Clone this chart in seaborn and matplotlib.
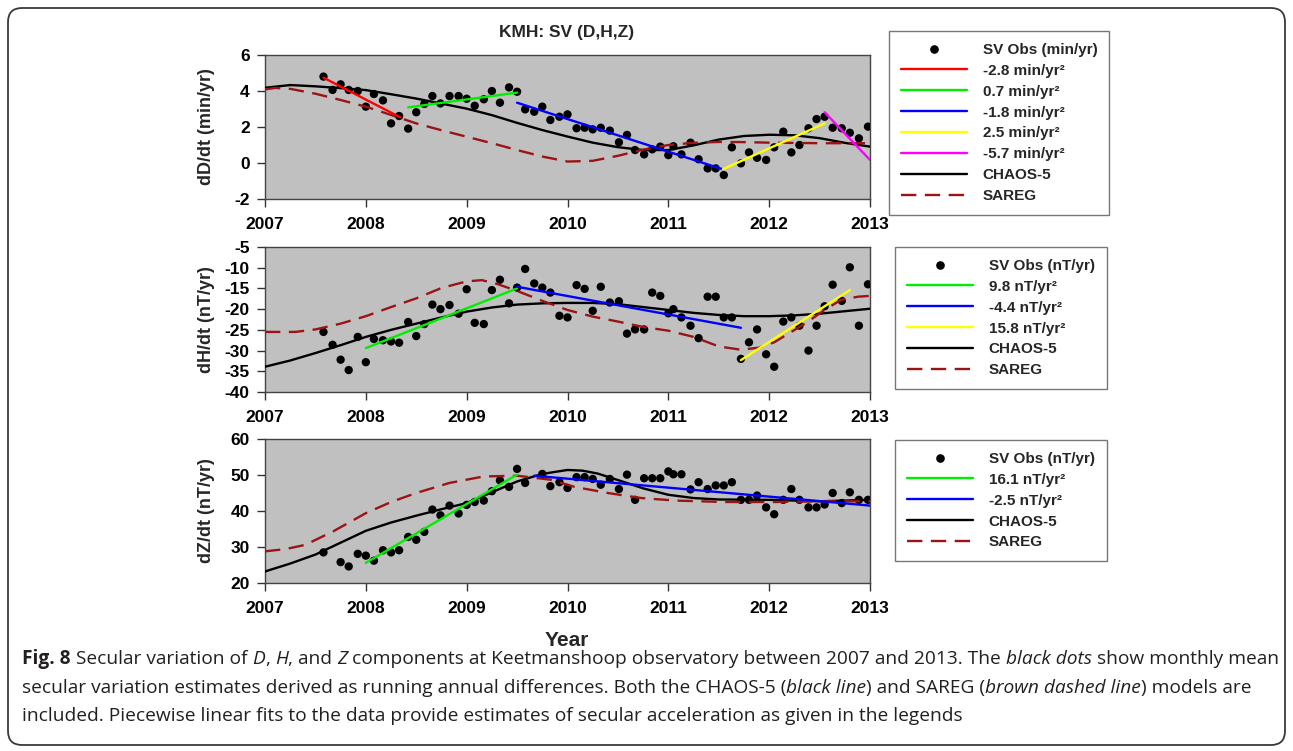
import numpy as np
import matplotlib
matplotlib.use("Agg")
import matplotlib.pyplot as plt
from matplotlib import font_manager as fm
import seaborn as sns
from matplotlib.lines import Line2D
from matplotlib.patches import FancyBboxPatch
from matplotlib.transforms import IdentityTransform

# ---------------- data ----------------
obs_t = [2007.58, 2007.67, 2007.75, 2007.83, 2007.92,
         2008.00, 2008.08, 2008.17, 2008.25, 2008.33, 2008.42, 2008.50, 2008.58, 2008.66, 2008.74, 2008.83, 2008.92,
         2009.00, 2009.08, 2009.17, 2009.25, 2009.33, 2009.42, 2009.50, 2009.58, 2009.67, 2009.75, 2009.83, 2009.92,
         2010.00, 2010.09, 2010.17, 2010.25, 2010.33, 2010.42, 2010.51, 2010.59, 2010.67, 2010.76, 2010.84, 2010.92,
         2011.00, 2011.05, 2011.13, 2011.22, 2011.30, 2011.39, 2011.47, 2011.55, 2011.63, 2011.72, 2011.80, 2011.88, 2011.97,
         2012.05, 2012.14, 2012.22, 2012.30, 2012.39, 2012.47, 2012.55, 2012.63, 2012.72, 2012.80, 2012.89, 2012.98]

obs_D = [4.80, 4.06, 4.37, 4.06, 4.00,
         3.13, 3.83, 3.48, 2.20, 2.61, 1.91, 2.82, 3.28, 3.72, 3.31, 3.72, 3.72,
         3.57, 3.18, 3.54, 4.00, 3.35, 4.20, 3.96, 2.98, 2.85, 3.13, 2.39, 2.57,
         2.70, 1.93, 1.96, 1.87, 1.96, 1.80, 1.15, 1.56, 0.72, 0.48, 0.76, 0.91,
         0.44, 0.93, 0.48, 1.13, 0.21, -0.30, -0.30, -0.67, 0.87, -0.02, 0.59, 0.29, 0.17,
         0.87, 1.74, 0.59, 1.00, 1.93, 2.44, 2.57, 1.96, 1.93, 1.68, 1.37, 2.02]

obs_H = [-25.5, -28.6, -32.2, -34.7, -26.7,
         -32.8, -27.2, -27.5, -27.8, -28.1, -23.1, -26.5, -23.6, -18.9, -20.0, -19.0, -21.1,
         -15.2, -23.3, -23.6, -15.4, -12.9, -18.6, -14.8, -10.3, -13.8, -14.8, -16.0, -21.6,
         -22.0, -14.2, -15.1, -20.4, -14.6, -18.4, -18.1, -25.9, -24.9, -24.9, -16.0, -16.8,
         -21.0, -20.0, -22.0, -24.0, -27.0, -17.0, -17.0, -22.0, -22.0, -32.0, -28.0, -24.9, -30.9,
         -33.9, -23.0, -22.0, -24.0, -30.0, -24.0, -19.3, -14.1, -18.0, -9.9, -24.0, -14.0]

obs_Z = [28.5, np.nan, 25.8, 24.6, 28.1,
         27.6, 26.2, 29.1, 28.5, 29.1, 32.8, 32.0, 34.2, 40.4, 38.8, 41.5, 39.3,
         41.7, 42.5, 42.9, 45.5, 48.5, 46.7, 51.7, 47.8, np.nan, 50.3, 46.9, 48.0,
         46.4, 49.4, 49.4, 48.9, 47.3, 48.9, 46.1, 50.1, 43.1, 49.1, 49.1, 49.1,
         51.0, 50.2, 50.2, 46.0, 48.0, 46.1, 47.1, 47.1, 48.0, 43.1, 43.1, 44.3, 41.0,
         39.1, 43.1, 46.1, 43.1, 41.0, 41.0, 41.8, 45.0, 42.2, 45.2, 43.1, 43.1]

# piecewise linear fits: start/end times and values
fit_D_t = [[2007.58, 2008.34], [2008.42, 2009.50], [2009.50, 2011.54], [2011.54, 2012.55], [2012.55, 2013.00]]
fit_D_v = [[4.74, 2.54], [3.09, 3.91], [3.35, -0.35], [-0.35, 2.20], [2.82, 0.17]]
fit_D_lab = ["-2.8 min/yr²", "0.7 min/yr²", "-1.8 min/yr²", "2.5 min/yr²", "-5.7 min/yr²"]

fit_H_t = [[2008.00, 2009.50], [2009.50, 2011.72], [2011.72, 2012.80]]
fit_H_v = [[-29.4, -15.0], [-14.6, -24.5], [-32.3, -15.4]]
fit_H_lab = ["9.8 nT/yr²", "-4.4 nT/yr²", "15.8 nT/yr²"]

fit_Z_t = [[2008.00, 2009.50], [2009.67, 2013.00]]
fit_Z_v = [[25.6, 50.1], [49.8, 41.5]]
fit_Z_lab = ["16.1 nT/yr²", "-2.5 nT/yr²"]

# model curves (CHAOS-5 and SAREG)
chaos_D_t = [2007.0, 2007.25, 2007.5, 2007.75, 2008.0, 2008.25, 2008.5, 2008.75, 2009.0, 2009.25, 2009.5, 2009.75,
             2010.0, 2010.25, 2010.5, 2010.75, 2011.0, 2011.25, 2011.5, 2011.75, 2012.0, 2012.25, 2012.5, 2012.75, 2013.0]
chaos_D_v = [4.18, 4.33, 4.26, 4.16, 4.05, 3.82, 3.58, 3.30, 3.02, 2.66, 2.23, 1.83,
             1.47, 1.13, 0.88, 0.72, 0.72, 0.98, 1.30, 1.50, 1.57, 1.54, 1.38, 1.12, 0.91]
sareg_D_t = [2007.0, 2007.1, 2007.25, 2007.5, 2007.75, 2008.0, 2008.25, 2008.5, 2008.75, 2009.0, 2009.25, 2009.5,
             2009.75, 2010.0, 2010.25, 2010.5, 2010.75, 2011.0, 2011.25, 2011.5, 2011.75, 2012.0, 2012.5, 2013.0]
sareg_D_v = [4.09, 4.17, 4.12, 3.85, 3.50, 3.13, 2.67, 2.20, 1.82, 1.46, 1.10, 0.72,
             0.36, 0.08, 0.12, 0.40, 0.74, 1.00, 1.12, 1.17, 1.16, 1.13, 1.10, 1.10]

chaos_H_t = [2007.0, 2007.25, 2007.5, 2007.75, 2008.0, 2008.25, 2008.5, 2008.75, 2009.0, 2009.25, 2009.5, 2009.75,
             2010.0, 2010.25, 2010.5, 2010.75, 2011.0, 2011.25, 2011.5, 2011.75, 2012.0, 2012.25, 2012.5, 2012.75, 2013.0]
chaos_H_v = [-33.9, -32.4, -30.6, -28.7, -26.7, -25.0, -23.5, -22.0, -20.6, -19.6, -18.9, -18.6,
             -18.5, -18.5, -18.8, -19.5, -20.2, -20.9, -21.4, -21.7, -21.7, -21.5, -21.1, -20.5, -19.9]
sareg_H_t = [2007.0, 2007.3, 2007.5, 2007.75, 2008.0, 2008.25, 2008.5, 2008.75, 2009.0, 2009.15, 2009.3, 2009.5,
             2009.75, 2010.0, 2010.25, 2010.5, 2010.75, 2011.0, 2011.25, 2011.5, 2011.72, 2011.9, 2012.05, 2012.2,
             2012.38, 2012.55, 2012.71, 2012.88, 2013.0]
sareg_H_v = [-25.5, -25.5, -24.9, -23.5, -21.7, -19.5, -17.4, -14.9, -13.3, -13.0, -13.9, -15.6,
             -18.0, -20.2, -21.8, -23.0, -24.3, -25.2, -26.7, -29.0, -29.8, -29.3, -28.0, -25.8,
             -23.1, -20.2, -17.8, -17.0, -16.8]

chaos_Z_t = [2007.0, 2007.25, 2007.5, 2007.75, 2008.0, 2008.25, 2008.5, 2008.75, 2009.0, 2009.25, 2009.5, 2009.75,
             2010.0, 2010.15, 2010.3, 2010.5, 2010.75, 2011.0, 2011.25, 2011.5, 2012.0, 2012.5, 2013.0]
chaos_Z_v = [23.2, 25.4, 27.9, 31.2, 34.5, 36.8, 38.7, 40.5, 42.2, 45.2, 48.2, 50.3,
             51.4, 51.2, 50.4, 48.6, 46.3, 44.5, 43.6, 43.2, 43.1, 42.7, 43.1]
sareg_Z_t = [2007.0, 2007.2, 2007.4, 2007.68, 2008.0, 2008.25, 2008.5, 2008.83, 2009.17, 2009.5, 2009.83,
             2010.07, 2010.4, 2010.73, 2011.07, 2011.56, 2012.05, 2012.55, 2013.0]
sareg_Z_v = [28.8, 29.4, 30.6, 34.4, 39.4, 42.5, 45.0, 47.8, 49.6, 49.8, 48.7,
             46.7, 45.0, 43.6, 42.9, 42.5, 42.5, 42.7, 42.7]

year_ticks = [2007, 2008, 2009, 2010, 2011, 2012, 2013]
yticks_D = [-2, 0, 2, 4, 6]
yticks_H = [-40, -35, -30, -25, -20, -15, -10, -5]
yticks_Z = [20, 30, 40, 50, 60]

# ---------------- fonts / style ----------------
fm.fontManager.ttflist = [f for f in fm.fontManager.ttflist if "narrow" not in f.fname.lower()]
try:
    fm.fontManager._findfont_cached.cache_clear()
except Exception:
    pass

sns.set_theme(style="ticks")
plt.rcParams["font.family"] = ["Liberation Sans", "DejaVu Sans"]
plt.rcParams["font.weight"] = "bold"

W, H = 1293, 751
fig = plt.figure(figsize=(W / 100, H / 100), dpi=100)
fig.patch.set_facecolor("white")


def rect(x0, y0, x1, y1):
    return [x0 / W, 1 - y1 / H, (x1 - x0) / W, (y1 - y0) / H]


axD = fig.add_axes(rect(265, 55, 870, 199))
axH = fig.add_axes(rect(265, 247, 870, 392))
axZ = fig.add_axes(rect(265, 439, 870, 583))

FIT_COLORS = ["#ff0000", "#00ee00", "#0000ff", "#ffff00", "#ff00ff"]
SAREG_COLOR = "#9b1414"
DASH = (0, (6.5, 3.6))
LW = 1.7

panels = [
    dict(ax=axD, obs=obs_D, ft=fit_D_t, fv=fit_D_v, fl=fit_D_lab, fc=FIT_COLORS,
         ct=chaos_D_t, cv=chaos_D_v, st=sareg_D_t, sv=sareg_D_v,
         ylim=(-2, 6), yt=yticks_D, ylab="dD/dt (min/yr)", obslab="SV Obs (min/yr)",
         anchor=(889, 31)),
    dict(ax=axH, obs=obs_H, ft=fit_H_t, fv=fit_H_v, fl=fit_H_lab, fc=["#00ee00", "#0000ff", "#ffff00"],
         ct=chaos_H_t, cv=chaos_H_v, st=sareg_H_t, sv=sareg_H_v,
         ylim=(-40, -5), yt=yticks_H, ylab="dH/dt (nT/yr)", obslab="SV Obs (nT/yr)",
         anchor=(895, 247)),
    dict(ax=axZ, obs=obs_Z, ft=fit_Z_t, fv=fit_Z_v, fl=fit_Z_lab, fc=["#00ee00", "#0000ff"],
         ct=chaos_Z_t, cv=chaos_Z_v, st=sareg_Z_t, sv=sareg_Z_v,
         ylim=(20, 60), yt=yticks_Z, ylab="dZ/dt (nT/yr)", obslab="SV Obs (nT/yr)",
         anchor=(895, 440)),
]

for p in panels:
    ax = p["ax"]
    ax.set_facecolor("#c0c0c0")
    sns.scatterplot(x=obs_t, y=p["obs"], ax=ax, color="black", s=36, edgecolor="none", zorder=3, legend=False)
    sns.lineplot(x=p["ct"], y=p["cv"], ax=ax, color="black", lw=LW, estimator=None, sort=False, zorder=4)
    sns.lineplot(x=p["st"], y=p["sv"], ax=ax, color=SAREG_COLOR, lw=LW, estimator=None, sort=False, zorder=4)
    ax.lines[-1].set_linestyle(DASH)
    for t, v, c in zip(p["ft"], p["fv"], p["fc"]):
        sns.lineplot(x=t, y=v, ax=ax, color=c, lw=LW, estimator=None, sort=False, zorder=5)

    ax.set_xlim(2007, 2013)
    ax.set_ylim(*p["ylim"])
    ax.set_xticks(year_ticks)
    ax.set_xticklabels([str(y) for y in year_ticks])
    ax.set_yticks(p["yt"])
    ax.set_yticklabels([str(v) for v in p["yt"]])
    ax.tick_params(axis="both", direction="out", length=6, width=1, color="#333333",
                   labelsize=12.5, labelcolor="black")
    ax.tick_params(axis="x", pad=7)
    ax.tick_params(axis="y", pad=5)
    for lab in ax.get_xticklabels() + ax.get_yticklabels():
        lab.set_fontweight("bold")
    for s in ax.spines.values():
        s.set_visible(True)
        s.set_color("#444444")
        s.set_linewidth(1.0)
    ax.set_xlabel("")
    ax.set_ylabel(p["ylab"], fontsize=13, fontweight="bold")
    ax.yaxis.set_label_coords(-0.082, 0.5)

    handles = [Line2D([], [], marker="o", ls="none", color="black", ms=5.2)]
    labels = [p["obslab"]]
    for c, l in zip(p["fc"], p["fl"]):
        handles.append(Line2D([], [], color=c, lw=LW))
        labels.append(l)
    handles.append(Line2D([], [], color="black", lw=LW))
    labels.append("CHAOS-5")
    handles.append(Line2D([], [], color=SAREG_COLOR, lw=LW, ls=DASH))
    labels.append("SAREG")
    ax_, ay_ = p["anchor"]
    leg = fig.legend(handles, labels, loc="upper left", bbox_to_anchor=(ax_ / W, 1 - ay_ / H),
                     bbox_transform=fig.transFigure, frameon=True, fancybox=False,
                     prop=dict(family="Liberation Sans", weight="bold", size=11),
                     handlelength=4.3, handletextpad=1.05, labelspacing=0.45,
                     borderpad=0.78, borderaxespad=0)
    leg.get_frame().set_edgecolor("#555555")
    leg.get_frame().set_linewidth(1.0)

fig.text(567 / W, 1 - 33 / H, "KMH: SV (D,H,Z)", ha="center", va="center", fontsize=12.5, fontweight="bold")
fig.text(567 / W, 1 - 640 / H, "Year", ha="center", va="center", fontsize=15, fontweight="bold")

# outer rounded frame
frame = FancyBboxPatch((8, 6), 1277, 737, boxstyle="round,pad=0,rounding_size=14",
                       transform=IdentityTransform(), fill=False, ec="#3a3a3a", lw=1.3)
fig.add_artist(frame)

# ---------------- caption with mixed styles ----------------
cap_lines = [
    [("Fig. 8", "bold", "normal"), (" Secular variation of ", "normal", "normal"), ("D", "normal", "italic"),
     (", ", "normal", "normal"), ("H", "normal", "italic"), (", and ", "normal", "normal"), ("Z", "normal", "italic"),
     (" components at Keetmanshoop observatory between 2007 and 2013. The ", "normal", "normal"),
     ("black dots", "normal", "italic"), (" show monthly mean", "normal", "normal")],
    [("secular variation estimates derived as running annual differences. Both the CHAOS-5 (", "normal", "normal"),
     ("black line", "normal", "italic"), (") and SAREG (", "normal", "normal"),
     ("brown dashed line", "normal", "italic"), (") models are", "normal", "normal")],
    [("included. Piecewise linear fits to the data provide estimates of secular acceleration as given in the legends",
      "normal", "normal")],
]
cap_y = [664, 693, 721]

fig.canvas.draw()
renderer = fig.canvas.get_renderer()
CAP_FAMILY = ["Open Sans", "DejaVu Sans"]


def txt_w(s, size, weight, style):
    t = fig.text(0, 0, s, fontsize=size, fontweight=weight, fontstyle=style, family=CAP_FAMILY)
    w = t.get_window_extent(renderer).width
    t.remove()
    return w


def run_w(s, size, weight, style):
    core = s.strip(" ")
    lead = len(s) - len(s.lstrip(" "))
    trail = len(s) - len(s.rstrip(" "))
    sp = txt_w("a a", size, weight, style) - txt_w("aa", size, weight, style)
    return (txt_w(core, size, weight, style) if core else 0) + (lead + trail) * sp, lead * sp, core


base = 12.0
w1 = sum(run_w(s, base, wt, st)[0] for s, wt, st in cap_lines[0])
cap_size = base * (1272 - 22) / w1

for line, yy in zip(cap_lines, cap_y):
    x = 22.0
    for s, wt, st in line:
        w, lead, core = run_w(s, cap_size, wt, st)
        if core:
            fig.text((x + lead) / W, 1 - yy / H, core, fontsize=cap_size, fontweight=wt, fontstyle=st,
                     family=CAP_FAMILY, color="#231f20", ha="left", va="baseline")
        x += w

fig.savefig("out.png", dpi=100)
